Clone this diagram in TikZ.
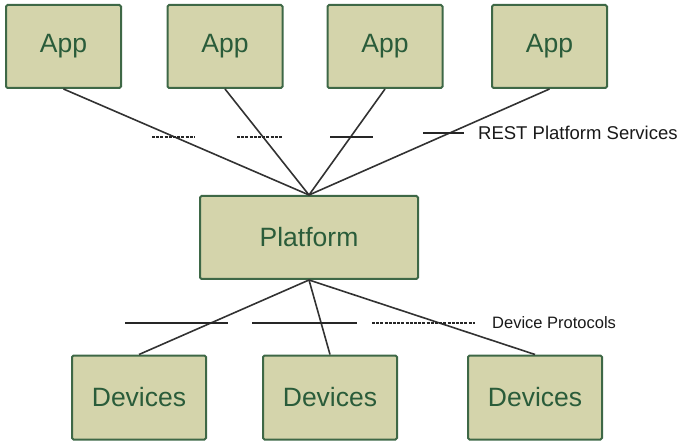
\documentclass[tikz,border=0pt]{standalone}
\usepackage{fontspec}
\setmainfont{Liberation Sans}
\usepackage{tikz}

\definecolor{boxfill}{RGB}{212,212,171}
\definecolor{boxline}{RGB}{62,104,70}
\definecolor{boxtext}{RGB}{42,92,58}
\definecolor{wire}{RGB}{50,50,50}

\tikzset{
  box/.style={draw=boxline, line width=2pt, fill=boxfill, text=boxtext,
    rounded corners=1.5pt, font=\fontsize{26.5}{31}\selectfont, inner sep=0pt},
  appbox/.style={box, minimum width=115, minimum height=83},
  devbox/.style={box, minimum width=134, minimum height=84},
  link/.style={draw=wire, line width=1.6pt},
  tickline/.style={draw=black!85, line width=1.8pt},
  dashtick/.style={tickline, dash pattern=on 3pt off 1.2pt},
  legend/.style={anchor=base west, inner sep=0pt, text=black!90}
}

\begin{document}
\begin{tikzpicture}[x=1pt,y=-1pt]
	\useasboundingbox (0,0) rectangle (679,443);

	% apps on top
	\node[appbox] (app1) at (63.5,46.5) {App};
	\node[appbox] (app2) at (225,46.5) {App};
	\node[appbox] (app3) at (385,46.5) {App};
	\node[appbox] (app4) at (549.5,46.5) {App};

	\node[box, minimum width=218, minimum height=83] (platform) at (309,237.5) {Platform};

	% devices at the bottom
	\node[devbox] (dev1) at (139,397.5) {Devices};
	\node[devbox] (dev2) at (330,397.5) {Devices};
	\node[devbox] (dev3) at (535,397.5) {Devices};

	\draw[link] (app1.south) -- (platform.north);
	\draw[link] (app2.south) -- (platform.north);
	\draw[link] (app3.south) -- (platform.north);
	\draw[link] (app4.south) -- (platform.north);

	\draw[link] (platform.south) -- (dev1.north);
	\draw[link] (platform.south) -- (dev2.north);
	\draw[link] (platform.south) -- (dev3.north);

	% interface marks
	\draw[dashtick] (152,137) -- (195,137);
	\draw[dashtick] (237,137) -- (283,137);
	\draw[tickline] (330,137) -- (373,137);
	\draw[tickline] (423,133) -- (464,133);
	\node[legend, font=\fontsize{18.5}{22}\selectfont] (rest) at (478,140) {REST Platform Services};

	\draw[tickline] (125,323) -- (228,323);
	\draw[tickline] (252,323) -- (357,323);
	\draw[dashtick] (372,323) -- (475,323);
	\node[legend, font=\fontsize{16.5}{20}\selectfont] (proto) at (492,328) {Device Protocols};
\end{tikzpicture}
\end{document}
